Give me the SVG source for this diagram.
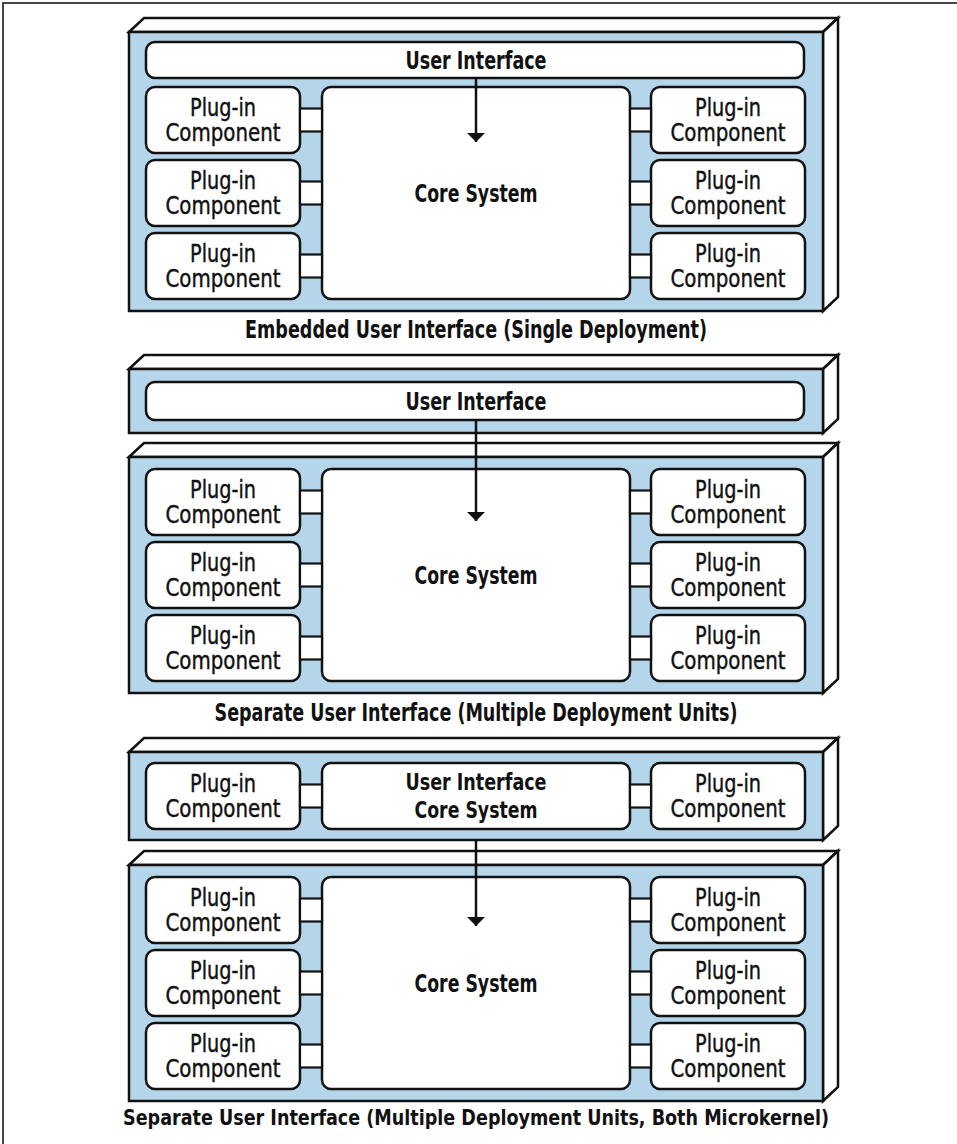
<svg xmlns="http://www.w3.org/2000/svg" width="957" height="1144" viewBox="0 0 957 1144">
<style>
.front{fill:#b4d5ea;stroke:#111;stroke-width:2.5}
.side{fill:#fff;stroke:#111;stroke-width:2.5;stroke-linejoin:miter}
.box{fill:#fff;stroke:#111;stroke-width:2.5}
.conn{fill:#fff;stroke:#111;stroke-width:2.2}
.t{font-family:"DejaVu Sans Condensed","Liberation Sans",sans-serif;font-size:24px;fill:#111;text-anchor:middle}
.p{font-weight:500;stroke:#111;stroke-width:0.4}
.b{font-weight:bold}
.s{font-size:23px}
.cap{font-family:"DejaVu Sans Condensed","Liberation Sans",sans-serif;font-size:24px;font-weight:bold;fill:#111;text-anchor:middle}
.arrow{stroke:#111;stroke-width:2.5;fill:none}
</style>
<defs>
<marker id="ah" markerUnits="userSpaceOnUse" viewBox="0 0 9 18" markerWidth="9" markerHeight="18" refX="9" refY="9" orient="auto">
<path d="M0,0 L9,9 L0,18 z" fill="#111"/>
</marker>
<g id="plug">
<rect class="box" x="0" y="0" width="154" height="66" rx="9"/>
<text class="t p" x="77" y="29" textLength="66" lengthAdjust="spacingAndGlyphs">Plug-in</text>
<text class="t p" x="77" y="54" textLength="115" lengthAdjust="spacingAndGlyphs">Component</text>
</g>
</defs>
<rect width="957" height="1144" fill="#fff"/>
<path d="M3,1144 V3 H957" fill="none" stroke="#444" stroke-width="2"/>

<!-- Deployment 1 -->
<g id="deploy1">
<polygon class="side" points="129,32 144,18 838,18 823,32"/>
<polygon class="side" points="823,32 838,18 838,297 823,311"/>
<rect class="front" x="129" y="32" width="694" height="279"/>
</g>
<g id="ui1">
<rect class="box" x="146" y="42" width="658" height="36" rx="9"/>
<text class="t b" x="476" y="69" textLength="141" lengthAdjust="spacingAndGlyphs">User Interface</text>
</g>
<g id="core1">
<rect class="box" x="322" y="87" width="308" height="212" rx="9"/>
<text class="t b" x="476" y="202" textLength="123" lengthAdjust="spacingAndGlyphs">Core System</text>
</g>
<g id="plug1L1"><use href="#plug" x="146" y="87"/></g>
<g id="plug1L2"><use href="#plug" x="146" y="160"/></g>
<g id="plug1L3"><use href="#plug" x="146" y="233"/></g>
<g id="plug1R1"><use href="#plug" x="651" y="87"/></g>
<g id="plug1R2"><use href="#plug" x="651" y="160"/></g>
<g id="plug1R3"><use href="#plug" x="651" y="233"/></g>
<text class="cap" x="476" y="338" textLength="462" lengthAdjust="spacingAndGlyphs">Embedded User Interface (Single Deployment)</text>

<!-- Deployment 2 (UI) -->
<g id="deploy2">
<polygon class="side" points="129,369 144,355 838,355 823,369"/>
<polygon class="side" points="823,369 838,355 838,419 823,433"/>
<rect class="front" x="129" y="369" width="694" height="64"/>
</g>
<g id="ui2">
<rect class="box" x="146" y="382" width="658" height="38" rx="9"/>
<text class="t b" x="476" y="410" textLength="141" lengthAdjust="spacingAndGlyphs">User Interface</text>
</g>

<!-- Deployment 3 -->
<g id="deploy3">
<polygon class="side" points="129,457 144,443 838,443 823,457"/>
<polygon class="side" points="823,457 838,443 838,679 823,693"/>
<rect class="front" x="129" y="457" width="694" height="236"/>
</g>
<g id="core3">
<rect class="box" x="322" y="469" width="308" height="212" rx="9"/>
<text class="t b" x="476" y="584" textLength="123" lengthAdjust="spacingAndGlyphs">Core System</text>
</g>
<g id="plug3L1"><use href="#plug" x="146" y="469"/></g>
<g id="plug3L2"><use href="#plug" x="146" y="542"/></g>
<g id="plug3L3"><use href="#plug" x="146" y="615"/></g>
<g id="plug3R1"><use href="#plug" x="651" y="469"/></g>
<g id="plug3R2"><use href="#plug" x="651" y="542"/></g>
<g id="plug3R3"><use href="#plug" x="651" y="615"/></g>
<text class="cap" x="476" y="721" textLength="523" lengthAdjust="spacingAndGlyphs">Separate User Interface (Multiple Deployment Units)</text>

<!-- Deployment 4 (UI microkernel) -->
<g id="deploy4">
<polygon class="side" points="129,752 144,738 838,738 823,752"/>
<polygon class="side" points="823,752 838,738 838,826 823,840"/>
<rect class="front" x="129" y="752" width="694" height="88"/>
</g>
<g id="uicore4">
<rect class="box" x="322" y="763" width="308" height="66" rx="9"/>
<text class="t b s" x="476" y="790" textLength="141" lengthAdjust="spacingAndGlyphs">User Interface</text>
<text class="t b s" x="476" y="818" textLength="123" lengthAdjust="spacingAndGlyphs">Core System</text>
</g>
<g id="plug4L"><use href="#plug" x="146" y="763"/></g>
<g id="plug4R"><use href="#plug" x="651" y="763"/></g>

<!-- Deployment 5 -->
<g id="deploy5">
<polygon class="side" points="129,865 144,851 838,851 823,865"/>
<polygon class="side" points="823,865 838,851 838,1087 823,1101"/>
<rect class="front" x="129" y="865" width="694" height="236"/>
</g>
<g id="core5">
<rect class="box" x="322" y="877" width="308" height="212" rx="9"/>
<text class="t b" x="476" y="992" textLength="123" lengthAdjust="spacingAndGlyphs">Core System</text>
</g>
<g id="plug5L1"><use href="#plug" x="146" y="877"/></g>
<g id="plug5L2"><use href="#plug" x="146" y="950"/></g>
<g id="plug5L3"><use href="#plug" x="146" y="1023"/></g>
<g id="plug5R1"><use href="#plug" x="651" y="877"/></g>
<g id="plug5R2"><use href="#plug" x="651" y="950"/></g>
<g id="plug5R3"><use href="#plug" x="651" y="1023"/></g>
<text class="cap" x="476" y="1125" font-size="22" textLength="706" lengthAdjust="spacingAndGlyphs" style="font-size:22px">Separate User Interface (Multiple Deployment Units, Both Microkernel)</text>

<!-- connectors -->
<g id="connectors">
<rect class="conn" x="300" y="108.5" width="22" height="23"/>
<rect class="conn" x="300" y="181.5" width="22" height="23"/>
<rect class="conn" x="300" y="254.5" width="22" height="23"/>
<rect class="conn" x="630" y="108.5" width="21" height="23"/>
<rect class="conn" x="630" y="181.5" width="21" height="23"/>
<rect class="conn" x="630" y="254.5" width="21" height="23"/>
<rect class="conn" x="300" y="490.5" width="22" height="23"/>
<rect class="conn" x="300" y="563.5" width="22" height="23"/>
<rect class="conn" x="300" y="636.5" width="22" height="23"/>
<rect class="conn" x="630" y="490.5" width="21" height="23"/>
<rect class="conn" x="630" y="563.5" width="21" height="23"/>
<rect class="conn" x="630" y="636.5" width="21" height="23"/>
<rect class="conn" x="300" y="784.5" width="22" height="23"/>
<rect class="conn" x="630" y="784.5" width="21" height="23"/>
<rect class="conn" x="300" y="898.5" width="22" height="23"/>
<rect class="conn" x="300" y="971.5" width="22" height="23"/>
<rect class="conn" x="300" y="1044.5" width="22" height="23"/>
<rect class="conn" x="630" y="898.5" width="21" height="23"/>
<rect class="conn" x="630" y="971.5" width="21" height="23"/>
<rect class="conn" x="630" y="1044.5" width="21" height="23"/>
<line class="arrow" x1="476" y1="78" x2="476" y2="142" marker-end="url(#ah)"/>
<line class="arrow" x1="476" y1="420" x2="476" y2="521" marker-end="url(#ah)"/>
<line class="arrow" x1="476" y1="840" x2="476" y2="926" marker-end="url(#ah)"/>
</g>
</svg>
